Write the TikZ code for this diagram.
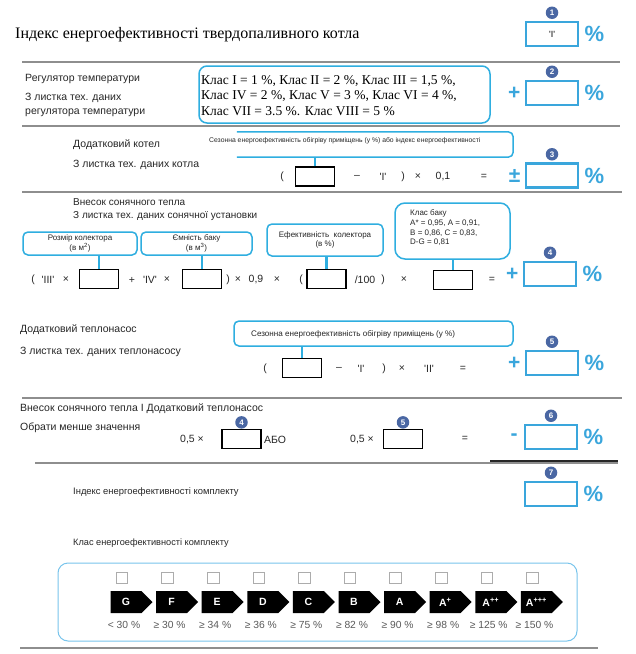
\documentclass[tikz,border=0pt]{standalone}
\usepackage{fontspec}
\setmainfont{Liberation Sans}
\newfontfamily\serifcyr{Liberation Serif}
\definecolor{EBlue}{HTML}{3AA6DC}
\definecolor{ELine}{HTML}{2FAEE0}
\definecolor{EDisc}{HTML}{4A67A3}
\definecolor{ERule}{HTML}{8E8E8E}
\definecolor{EInk}{HTML}{262626}
\definecolor{EGrey}{HTML}{5A5A5A}
\definecolor{EFrame}{HTML}{78C4EC}
\usepackage{tikz}
\usetikzlibrary{positioning,calc,shapes.symbols}
\newcommand{\qmark}[1]{\textquotesingle#1\textquotesingle}

\begin{document}
\begin{tikzpicture}[x=1pt,y=-1pt,
    txt/.style={anchor=west,inner sep=0pt,text=EInk,font=\fontsize{10.5}{12}\selectfont},
    small/.style={inner sep=0pt,text=EInk,font=\fontsize{8}{9.5}\selectfont},
    op/.style={inner sep=0pt,text=EInk,font=\fontsize{10.5}{12}\selectfont},
    inbox/.style={draw=black,line width=1.4pt,minimum width=39pt,minimum height=19pt,inner sep=0pt},
    resbox/.style={draw=EBlue,line width=2.6pt,minimum width=52pt,minimum height=24pt,inner sep=0pt},
    disc/.style={circle,fill=EDisc,text=white,inner sep=0pt,minimum size=12.5pt,font=\bfseries\fontsize{8}{8}\selectfont},
    pct/.style={inner sep=0pt,text=EBlue,font=\bfseries\fontsize{22}{22}\selectfont},
    sign/.style={inner sep=0pt,text=EBlue,font=\bfseries\fontsize{21}{21}\selectfont},
    call/.style={draw=ELine,line width=1.5pt,rounded corners=5pt},
    tick/.style={draw=ELine,line width=2.2pt},
    rule/.style={ERule,line width=2.2pt},
  ]
  \useasboundingbox[fill=white] (0,0) rectangle (636,654);

  % solid fuel boiler
  \node[anchor=west,inner sep=0pt,font=\serifcyr\fontsize{16}{18}\selectfont] (title) at (15,35) {Індекс енергоефективності твердопаливного котла};
  \node[resbox] (r1) at (552,34) {\fontsize{9}{9}\selectfont\qmark{I}};
  \node[disc,above=1.5pt of r1] (d1) {1};
  \node[pct,right=5pt of r1] (p1) {\%};
  \draw[rule] (22,62) -- (620,62);

  % temperature control
  \node[txt] (reg1) at (25,79) {Регулятор температури};
  \node[txt] (reg2) at (25,98) {З листка тех. даних};
  \node[txt] (reg3) at (25,113) {регулятора температури};
  \node[call,rounded corners=8pt,minimum width=291pt,minimum height=57pt] (regbox) at (344.5,94.5) {};
  \node[anchor=west,inner sep=0pt,align=left,font=\serifcyr\fontsize{13.5}{15.5}\selectfont] (regtx) at (201,95.5)
    {Клас I = 1 \%, Клас II = 2 \%, Клас III = 1,5 \%,\\Клас IV = 2 \%, Клас V = 3 \%, Клас VI = 4 \%,\\Клас VII = 3.5 \%. Клас VIII = 5 \%};
  \node[resbox] (r2) at (552,93) {};
  \node[disc,above=1.5pt of r2] (d2) {2};
  \node[pct,right=5pt of r2] (p2) {\%};
  \node[sign,left=4pt of r2] (s2) {+};
  \draw[rule] (22,126) -- (620,126);

  % supplementary boiler
  \node[txt] (boil1) at (73,145) {Додатковий котел};
  \node[txt] (boil2) at (73,165) {З листка тех. даних котла};
  \node[minimum width=276pt,minimum height=25pt,inner sep=0pt] (boilfr) at (375,144.5) {};
  \draw[call] (boilfr.north west) -- (boilfr.north east) -- (boilfr.south east) -- (boilfr.south west);
  \node[small,anchor=west,font=\fontsize{6.8}{8}\selectfont] (boiltx) at (209,141) {Сезонна енергоефективність обігріву приміщень (у \%) або індекс енергоефективності};
  \node[inbox] (in3) at (315,176.5) {};
  \draw[tick] (in3.north) -- (in3.north |- boilfr.south);
  \node[op] (o31) at (282,177) {(};
  \node[op] (o32) at (357,177) {–};
  \node[op] (o33) at (383,177) {\qmark{I}};
  \node[op] (o34) at (403,177) {)};
  \node[op] (o35) at (418,177) {×};
  \node[op] (o36) at (443,177) {0,1};
  \node[op] (o37) at (484,177) {=};
  \node[resbox] (r3) at (552,175.5) {};
  \node[disc,above=1.5pt of r3] (d3) {3};
  \node[pct,right=5pt of r3] (p3) {\%};
  \node[sign,left=4pt of r3] (s3) {±};
  \draw[rule] (22,192) -- (622,192);

  % solar contribution
  \node[txt,font=\fontsize{10}{12}\selectfont] (sol1) at (73,202) {Внесок сонячного тепла};
  \node[txt,font=\fontsize{10}{12}\selectfont] (sol2) at (73,216) {З листка тех. даних сонячної установки};
  \node[call,small,align=center,minimum width=114pt,minimum height=23pt] (colA) at (80,243.5) {Розмір колектора\\(в м\textsuperscript{2})};
  \node[call,small,align=center,minimum width=111pt,minimum height=23pt] (colB) at (196.5,243.5) {Ємність баку\\(в м\textsuperscript{3})};
  \node[call,small,align=center,minimum width=116pt,minimum height=32pt] (colC) at (325,240) {Ефективність\ \ колектора\\(в \%)};
  \node[call,rounded corners=10pt,minimum width=115pt,minimum height=56pt] (colD) at (452.5,231) {};
  \node[small,anchor=west,align=left,font=\fontsize{8}{9.7}\selectfont] (tanktx) at (410,228)
    {Клас баку\\A* = 0,95, A = 0,91,\\B = 0,86, C = 0,83,\\D-G = 0,81};
  \node[inbox] (in4a) at (99,279) {};
  \node[inbox] (in4b) at (202,279) {};
  \node[inbox] (in4c) at (326.5,279) {};
  \node[inbox] (in4d) at (453,280) {};
  \draw[tick] (in4a.north) -- (in4a.north |- colA.south);
  \draw[tick] (in4b.north) -- (in4b.north |- colB.south);
  \draw[tick] (in4c.north) -- (in4c.north |- colC.south);
  \draw[tick] (in4d.north) -- (in4d.north |- colD.south);
  \node[op] (o41) at (33,280) {(};
  \node[op] (o42) at (48,280) {\qmark{III}};
  \node[op] (o43) at (66,280) {×};
  \node[op] (o44) at (132,280) {+};
  \node[op] (o45) at (150,280) {\qmark{IV}};
  \node[op] (o46) at (167,280) {×};
  \node[op] (o47) at (228,280) {)};
  \node[op] (o48) at (238,280) {×};
  \node[op] (o49) at (256,280) {0,9};
  \node[op] (o410) at (277,280) {×};
  \node[op] (o411) at (301,280) {(};
  \node[op] (o412) at (365,280) {/100};
  \node[op] (o413) at (383,280) {)};
  \node[op] (o414) at (404,280) {×};
  \node[op] (o415) at (492,280) {=};
  \node[resbox] (r4) at (550,274) {};
  \node[disc,above=1.5pt of r4] (d4) {4};
  \node[pct,right=5pt of r4] (p4) {\%};
  \node[sign,left=4pt of r4] (s4) {+};

  % supplementary heat pump
  \node[txt] (hp1) at (20,330) {Додатковий теплонасос};
  \node[txt] (hp2) at (20,352) {З листка тех. даних теплонасосу};
  \node[call,minimum width=279pt,minimum height=25pt] (hpbox) at (373.5,333.5) {};
  \node[small,anchor=west,font=\fontsize{8.1}{9.5}\selectfont] (hptx) at (251,334) {Сезонна енергоефективність обігріву приміщень (у \%)};
  \node[inbox] (in5) at (302,368) {};
  \draw[tick] (in5.north) -- (in5.north |- hpbox.south);
  \node[op] (o51) at (265,369) {(};
  \node[op] (o52) at (339,369) {–};
  \node[op] (o53) at (361,369) {\qmark{I}};
  \node[op] (o54) at (384,369) {)};
  \node[op] (o55) at (402,369) {×};
  \node[op] (o56) at (429,369) {\qmark{II}};
  \node[op] (o57) at (463,369) {=};
  \node[resbox] (r5) at (552,363) {};
  \node[disc,above=1.5pt of r5] (d5) {5};
  \node[pct,right=5pt of r5] (p5) {\%};
  \node[sign,left=4pt of r5] (s5) {+};
  \draw[rule] (22,398) -- (622,398);

  % solar or heat pump
  \node[txt] (mix1) at (20,409) {Внесок сонячного тепла I Додатковий теплонасос};
  \node[txt] (mix2) at (20,428) {Обрати менше значення};
  \node[op] (o61) at (192,439) {0,5 ×};
  \node[inbox] (in6a) at (241.5,439) {};
  \node[disc,above=0pt of in6a] (d6a) {4};
  \node[op,anchor=west] (o62) at (264,440) {АБО};
  \node[op] (o63) at (362,439) {0,5 ×};
  \node[inbox] (in6b) at (403,439) {};
  \node[disc,above=0pt of in6b] (d6b) {5};
  \node[op] (o64) at (465,439) {=};
  \node[resbox] (r6) at (551,437) {};
  \node[disc,above=1.5pt of r6] (d6) {6};
  \node[pct,right=5pt of r6] (p6) {\%};
  \node[sign,left=6pt of r6] (s6) {-};
  \draw[rule] (35,463) -- (618,463);
  \draw[EInk,line width=1.2pt] (490,461) -- (618,461);

  % package index
  \node[txt,font=\fontsize{9.4}{11}\selectfont] (tot) at (73,492) {Індекс енергоефективності комплекту};
  \node[resbox] (r7) at (551,494) {};
  \node[disc,above=1.5pt of r7] (d7) {7};
  \node[pct,right=5pt of r7] (p7) {\%};

  % class scale
  \node[txt,font=\fontsize{9.2}{11}\selectfont] (clsttl) at (73,543) {Клас енергоефективності комплекту};
  \node[draw=EFrame,line width=1pt,rounded corners=10pt,minimum width=519pt,minimum height=78pt] (clsbox) at (317.5,602) {};
  \foreach \c/\v [count=\i from 0] in {G/{< 30 \%},F/{≥ 30 \%},E/{≥ 34 \%},D/{≥ 36 \%},C/{≥ 75 \%},
      B/{≥ 82 \%},A/{≥ 90 \%},A\textsuperscript{+}/{≥ 98 \%},A\textsuperscript{++}/{≥ 125 \%},A\textsuperscript{+++}/{≥ 150 \%}}{
    \pgfmathsetmacro{\cx}{122+45.6*\i}
    \node[draw=gray!65,line width=0.8pt,minimum size=11.5pt,inner sep=0pt] (chk\i) at (\cx,578) {};
    \node[signal,signal to=east,fill=black,text=white,minimum width=42pt,minimum height=22pt,inner sep=0pt,
          font=\bfseries\fontsize{10.5}{10.5}\selectfont] (cls\i) at (\cx+4,602) {\c};
    \node[inner sep=0pt,text=EGrey,font=\fontsize{10.3}{11}\selectfont] (lim\i) at (\cx+2,625) {\v};
  }
  \draw[rule] (20,648) -- (598,648);
\end{tikzpicture}
\end{document}
